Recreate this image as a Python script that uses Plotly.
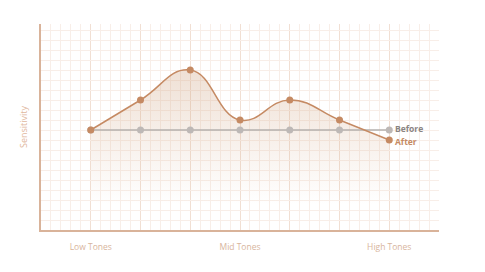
import plotly.graph_objects as go

positions = [0, 1, 2, 3, 4, 5, 6]
tone_labels = ["Low Tones", "", "", "Mid Tones", "", "", "High Tones"]
before = [1.0, 1.0, 1.0, 1.0, 1.0, 1.0, 1.0]
after = [1.0, 1.3, 1.6, 1.1, 1.3, 1.1, 0.9]

TAN = "#c58a63"
GRAY = "#b4b0ae"

fig = go.Figure()

fig.add_trace(go.Scatter(
    x=positions, y=after, mode="lines", line=dict(shape="spline", smoothing=1.3, width=0),
    fill="tozeroy",
    fillgradient=dict(type="vertical", start=0.25, stop=1.6,
                      colorscale=[[0, "rgba(205,160,125,0)"], [1, "rgba(205,160,125,0.32)"]]),
    hoverinfo="skip", showlegend=False))

fig.add_trace(go.Scatter(
    x=positions, y=before, mode="lines+markers",
    line=dict(color=GRAY, width=1.5), marker=dict(color="#bdb8b6", size=7),
    showlegend=False))

fig.add_trace(go.Scatter(
    x=positions, y=after, mode="lines+markers",
    line=dict(color=TAN, width=1.5, shape="spline", smoothing=1.3),
    marker=dict(color=TAN, size=7), showlegend=False))

fig.add_annotation(x=positions[-1], y=before[-1], text="<b>Before</b>", showarrow=False,
                   xanchor="left", xshift=4, yshift=2,
                   font=dict(color="#8a8482", size=8.5, family="Open Sans"))
fig.add_annotation(x=positions[-1], y=after[-1], text="<b>After</b>", showarrow=False,
                   xanchor="left", xshift=4, yshift=-1,
                   font=dict(color=TAN, size=8.5, family="Open Sans"))

fig.update_layout(
    width=485, height=272,
    margin=dict(l=41, r=46, t=24, b=42),
    paper_bgcolor="white", plot_bgcolor="white",
    font=dict(family="Open Sans", color="#d8b59d", size=8.5),
    xaxis=dict(range=[-1, 7], tickvals=positions, ticktext=tone_labels,
               showgrid=True, gridcolor="#f1dfd3", gridwidth=1,
               minor=dict(dtick=0.2, tick0=0, showgrid=True, gridcolor="#f8eee8", gridwidth=1),
               showline=True, linecolor="#d9b39a", linewidth=2,
               ticks="outside", ticklen=8, tickcolor="rgba(0,0,0,0)",
               zeroline=False, fixedrange=True),
    yaxis=dict(range=[0, 2.06], dtick=0.1, tick0=0, showticklabels=False,
               showgrid=True, gridcolor="#f8eee8", gridwidth=1,
               showline=True, linecolor="#d9b39a", linewidth=2,
               zeroline=False,
               title=dict(text="Sensitivity", standoff=10,
                          font=dict(color="#dfb89e", size=9, family="Open Sans"))),
)

fig.write_html("out.html")
